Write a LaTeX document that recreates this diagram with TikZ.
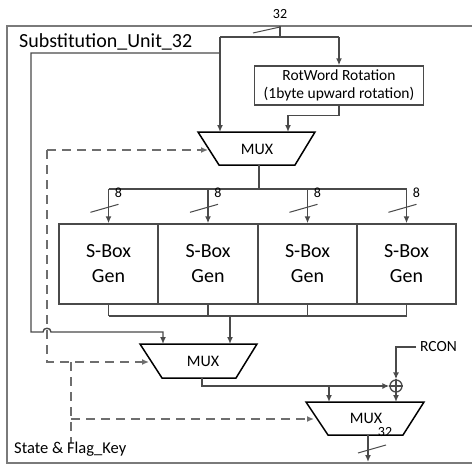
\documentclass[tikz,border=0pt]{standalone}
\usepackage{fontspec}
\setmainfont{Carlito}
\usetikzlibrary{arrows.meta,calc}
\definecolor{ln}{HTML}{4A4A4A}
\definecolor{fr}{HTML}{7A7A7A}
\begin{document}
\begin{tikzpicture}[x=1pt,y=-1pt,
  wire/.style={draw=ln,line width=1.4pt},
  arr/.style={wire,-{Latex[length=7pt,width=6pt]}},
  dsh/.style={draw=ln!80,line width=1.3pt,dash pattern=on 9pt off 6pt},
  darr/.style={dsh,-{Latex[length=7pt,width=6pt]}},
  muxs/.style={draw=black,line width=1.5pt},
  lbl/.style={font=\fontsize{16}{18}\selectfont,inner sep=0pt},
  sbox/.style={draw=ln,line width=1.4pt,minimum width=99pt,minimum height=80pt,inner sep=0pt,align=center,font=\fontsize{20}{25}\selectfont},
  slash/.style={draw=ln,line width=1pt}]
\useasboundingbox (0,0) rectangle (472,464);
% frame
\draw[draw=fr,line width=1.5pt] (472,26) -- (7,26) -- (7,463) -- (472,463);
\node[anchor=base west,inner sep=0pt,font=\fontsize{20}{22}\selectfont] (title) at (19,47) {Substitution\_Unit\_32};
% input
\node[lbl,font=\fontsize{14}{16}\selectfont] (w32a) at (280,14) {32};
\coordinate (in) at (280,26);
\coordinate (sp) at (280,37);
\coordinate (spl) at (220,37);
\coordinate (spr) at (339,37);
\draw[wire] (in) -- (sp);
\draw[slash] (253,33) -- (280,27);
\draw[wire] (spl) -- (spr);
% RotWord
\node[draw=ln,line width=1.4pt,minimum width=169pt,minimum height=39pt,inner sep=0pt,align=center,font=\fontsize{15.5}{18}\selectfont] (rot) at (339,85.5) {RotWord Rotation\\(1byte upward rotation)};
\draw[arr] (spr) -- (rot.north);
% MUX1
\coordinate (m1in1) at (220,132);
\coordinate (m1in2) at (288,132);
\coordinate (m1ctl) at (208,150);
\coordinate (m1out) at (259,165);
\draw[muxs] (198,132) -- (315,132) -- (295,165) -- (219,165) -- cycle;
\node[lbl] (mux1) at (257,149) {MUX};
\draw[arr] (spl) -- (m1in1);
\draw[arr] (rot.south) -- ++(0,10) -| (m1in2);
% S-boxes
\node[sbox] (sb1) at (108.5,264) {S-Box\\Gen};
\node[sbox] (sb2) at (208,264) {S-Box\\Gen};
\node[sbox] (sb3) at (307.5,264) {S-Box\\Gen};
\node[sbox] (sb4) at (406.5,264) {S-Box\\Gen};
\coordinate (bus) at (259,189);
\draw[wire] (m1out) -- (bus);
\draw[wire] (sb1.north |- bus) -- (sb4.north |- bus);
\foreach \s in {sb1,sb2,sb3,sb4}{
  \draw[arr] (\s.north |- bus) -- (\s.north);
  \draw[slash] ($(\s.north)+(-18,-11)$) -- ($(\s.north)+(10,-19)$);
  \node[lbl,font=\fontsize{14}{16}\selectfont] at ($(\s.north)+(10,-31)$) {8};
}
\coordinate (bus2) at (230,316);
\foreach \s in {sb1,sb2,sb3,sb4}{
  \draw[wire] (\s.south) -- (\s.south |- bus2);
}
\draw[wire] (sb1.south |- bus2) -- (sb4.south |- bus2);
% MUX2
\coordinate (m2in1) at (163,344);
\coordinate (m2in2) at (230,344);
\coordinate (m2ctl) at (149,362);
\coordinate (m2out) at (202,378);
\draw[muxs] (140,344) -- (257,344) -- (236,378) -- (162,378) -- cycle;
\node[lbl] (mux2) at (203,361) {MUX};
\draw[arr] (bus2) -- (m2in2);
% feedback with hop
\coordinate (fb) at (220,53);
\draw[arr] (fb) -- (31,53) -- (31,332) -- (43,332) .. controls (43,327) and (51,327) .. (51,332) -| (m2in1);
% XOR
\node[circle,draw=ln,line width=1.3pt,minimum size=12pt,inner sep=0pt] (xor) at (396,386) {};
\draw[draw=ln,line width=1.2pt] (xor.north) -- (xor.south) (xor.west) -- (xor.east);
\node[anchor=west,inner sep=4pt,font=\fontsize{15.5}{17}\selectfont] (rcon) at (416,347) {RCON};
\draw[arr] (rcon.west) -| (xor.north);
% MUX3
\coordinate (m3in1) at (329,402);
\coordinate (m3in2) at (396,402);
\coordinate (m3ctl) at (314,419);
\coordinate (m3out) at (368,435);
\draw[muxs] (306,402) -- (424,402) -- (403,435) -- (328,435) -- cycle;
\node[lbl] (mux3) at (366,418) {MUX};
\draw[arr] (m2out) |- (xor.west);
\draw[arr] (m3in1 |- xor.west) -- (m3in1);
\draw[arr] (xor.south) -- (m3in2);
\coordinate (out) at (368,462);
\draw[arr] (m3out) -- (out);
\draw[slash] (358,453) -- (386,445);
\node[lbl,font=\fontsize{14}{16}\selectfont] (w32b) at (385,432) {32};
% control (dashed)
\coordinate (c1) at (47,150);
\coordinate (c2) at (47,362);
\coordinate (c3) at (71,362);
\coordinate (c4) at (71,443);
\coordinate (c5) at (71,419);
\draw[darr] (c1) -- (m1ctl);
\draw[darr] (c1) -- (c2) -- (m2ctl);
\draw[dsh] (c3) -- (c4);
\draw[darr] (c5) -- (m3ctl);
\node[anchor=base west,inner sep=0pt,font=\fontsize{16.5}{18}\selectfont] (state) at (14,453) {State \& Flag\_Key};
\end{tikzpicture}
\end{document}
